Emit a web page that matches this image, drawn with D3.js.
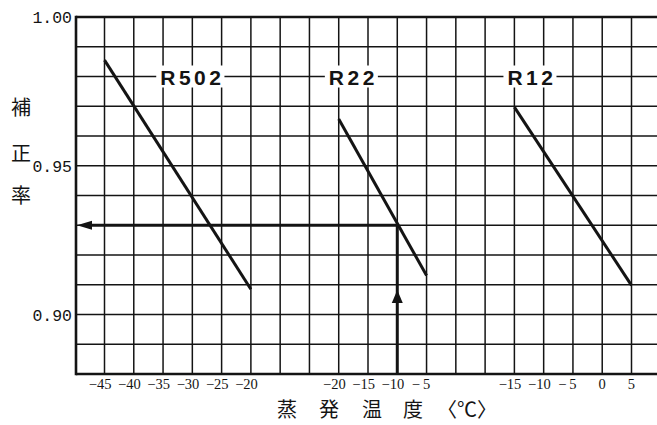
<!DOCTYPE html>
<html>
<head>
<meta charset="utf-8">
<script src="https://cdn.jsdelivr.net/npm/d3@7"></script>
<style>
  html, body { margin: 0; padding: 0; background: #fff; }
  svg { display: block; }
</style>
</head>
<body>
<div id="chart"></div>
<script>
// ---- data ----
const seriesNames = ["R502", "R22", "R12"];
const r502Temps = [-45, -20];
const r502Values = [0.9855, 0.9085];
const r22Temps = [-20, -5];
const r22Values = [0.9657, 0.9131];
const r12Temps = [-15, 5];
const r12Values = [0.9697, 0.9098];
const r502Ticks = [-45, -40, -35, -30, -25, -20];
const r22Ticks = [-20, -15, -10, -5];
const r12Ticks = [-15, -10, -5, 0, 5];
const yTicks = [0.90, 0.95, 1.00];
const yGridValues = [0.88, 0.89, 0.90, 0.91, 0.92, 0.93, 0.94, 0.95, 0.96, 0.97, 0.98, 0.99, 1.00];
const labelTemps = [-30, -17.5, -12];   // label centres on each sub-scale
const labelValue = 0.98;
const exampleTemp = -10;   // R22 example
const exampleValue = 0.93;
const yTitleChars = ["補", "正", "率"];
const xTitleChars = ["蒸", "発", "温", "度", "〈℃〉"];

// ---- layout ----
const W = 657, H = 425;
const mLeft = 76, mTop = 17, mBottom = 374, mRight = 657;

const svg = d3.select("#chart").append("svg").attr("width", W).attr("height", H);

const y = d3.scaleLinear().domain([0.88, 1.00]).range([mBottom, mTop]);
const xGrid = d3.scaleLinear().domain([0, 18]).range([104.5, 631.5]);
const x502 = d3.scaleLinear().domain([-45, -20]).range([xGrid(0), xGrid(5)]);
const x22 = d3.scaleLinear().domain([-20, -5]).range([xGrid(8), xGrid(11)]);
const x12 = d3.scaleLinear().domain([-15, 5]).range([xGrid(14), xGrid(18)]);
const scales = [x502, x22, x12];
const temps = [r502Temps, r22Temps, r12Temps];
const vals = [r502Values, r22Values, r12Values];
const ticks = [r502Ticks, r22Ticks, r12Ticks];

const ink = "#141414";

// grid: vertical
svg.append("g").selectAll("line").data(d3.range(0, 19)).join("line")
  .attr("x1", d => xGrid(d)).attr("x2", d => xGrid(d))
  .attr("y1", mTop).attr("y2", mBottom)
  .attr("stroke", ink).attr("stroke-width", 1.5);
// grid: horizontal
svg.append("g").selectAll("line").data(yGridValues).join("line")
  .attr("x1", mLeft).attr("x2", mRight)
  .attr("y1", d => y(d)).attr("y2", d => y(d))
  .attr("stroke", ink).attr("stroke-width", 1.5);

// frame
svg.append("line").attr("x1", mLeft).attr("x2", mRight).attr("y1", mTop).attr("y2", mTop)
  .attr("stroke", ink).attr("stroke-width", 2.6);
svg.append("line").attr("x1", mLeft).attr("x2", mRight).attr("y1", mBottom).attr("y2", mBottom)
  .attr("stroke", ink).attr("stroke-width", 2.6);
svg.append("line").attr("x1", mLeft).attr("x2", mLeft).attr("y1", mTop - 1.3).attr("y2", mBottom + 1.3)
  .attr("stroke", ink).attr("stroke-width", 2.6);

// series labels with white knock-out boxes
seriesNames.forEach((name, i) => {
  const cx = scales[i](labelTemps[i]);
  const cy = y(labelValue);
  const g = svg.append("g");
  const t = g.append("text")
    .attr("x", cx).attr("y", cy + 8)
    .attr("text-anchor", "middle")
    .attr("font-family", "'Liberation Sans', Arial, sans-serif")
    .attr("font-weight", "bold")
    .attr("font-size", 21)
    .attr("letter-spacing", 3.5)
    .attr("fill", ink)
    .text(name);
  const bb = t.node().getBBox();
  g.insert("rect", "text")
    .attr("x", bb.x - 4).attr("y", cy - 11)
    .attr("width", bb.width + 4).attr("height", 22)
    .attr("fill", "#fff");
});

// series lines
const line = (sx) => d3.line().x(d => sx(d[0])).y(d => y(d[1]));
seriesNames.forEach((name, i) => {
  const pts = temps[i].map((t, j) => [t, vals[i][j]]);
  svg.append("path").datum(pts)
    .attr("d", line(scales[i]))
    .attr("fill", "none").attr("stroke", ink).attr("stroke-width", 3);
});

// example arrows
const ex = x22(exampleTemp), ey = y(exampleValue);
svg.append("line").attr("x1", ex).attr("x2", mLeft + 12).attr("y1", ey).attr("y2", ey)
  .attr("stroke", ink).attr("stroke-width", 3);
svg.append("path")
  .attr("d", `M${mLeft + 1},${ey} L${mLeft + 16},${ey - 4.5} L${mLeft + 16},${ey + 4.5} Z`)
  .attr("fill", ink);
svg.append("line").attr("x1", ex).attr("x2", ex).attr("y1", mBottom).attr("y2", ey - 1.5)
  .attr("stroke", ink).attr("stroke-width", 3);
svg.append("path")
  .attr("d", `M${ex},${mBottom - 84} L${ex - 5.5},${mBottom - 71} L${ex + 5.5},${mBottom - 71} Z`)
  .attr("fill", ink);

// y tick labels
svg.append("g").selectAll("text").data(yTicks).join("text")
  .attr("x", mLeft - 4).attr("y", d => y(d) + 6)
  .attr("text-anchor", "end")
  .attr("font-family", "'Liberation Mono', 'DejaVu Sans Mono', monospace")
  .attr("font-size", 16.5)
  .attr("fill", ink)
  .text(d => d3.format(".2f")(d));

// x tick labels per sub-scale
const fmt = d => d < 0 ? (d > -10 ? "\u2212\u2009" + (-d) : "\u2212" + (-d)) : String(d);
scales.forEach((sx, i) => {
  svg.append("g").selectAll("text").data(ticks[i]).join("text")
    .attr("x", d => sx(d) + (Math.abs(d) >= 10 ? 7 : 3.6))
    .attr("y", 389)
    .attr("text-anchor", "end")
    .attr("font-family", "'Liberation Serif', 'Times New Roman', serif")
    .attr("font-size", 14.5)
    .attr("fill", ink)
    .text(fmt);
});

// y title (vertical characters)
const yTitleY = [108, 154, 196];
svg.append("g").selectAll("text").data(yTitleChars).join("text")
  .attr("x", 21).attr("y", (d, i) => yTitleY[i] + 7)
  .attr("text-anchor", "middle")
  .attr("font-family", "'Noto Sans CJK JP', sans-serif")
  .attr("font-size", 20)
  .attr("fill", ink)
  .text(d => d);

// x title
const xTitleX = [287, 329, 372, 413, 467];
svg.append("g").selectAll("text").data(xTitleChars).join("text")
  .attr("x", (d, i) => xTitleX[i]).attr("y", 417)
  .attr("text-anchor", "middle")
  .attr("font-family", "'Noto Sans CJK JP', sans-serif")
  .attr("font-size", 20)
  .attr("fill", ink)
  .text(d => d);
</script>
</body>
</html>
